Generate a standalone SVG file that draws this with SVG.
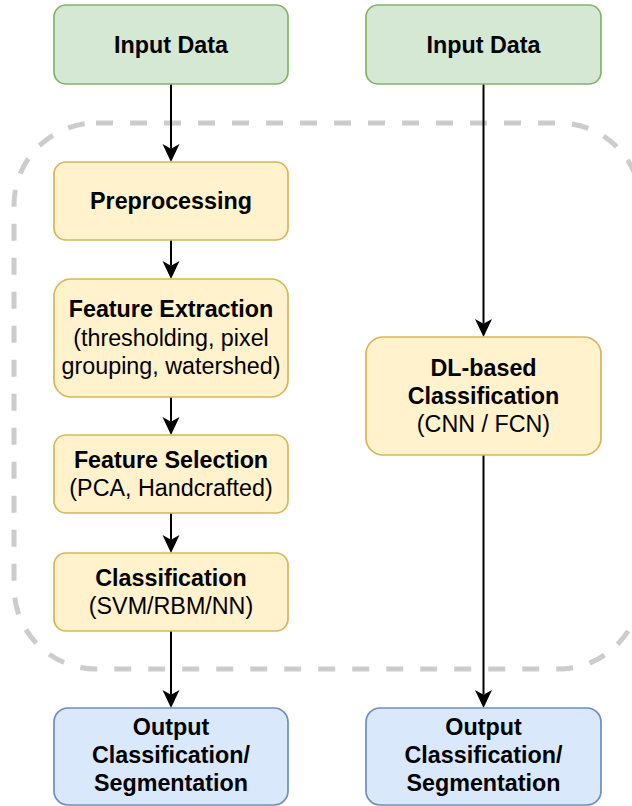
<svg xmlns="http://www.w3.org/2000/svg" width="632" height="806" viewBox="0 0 632 806">
  <style>
    .t { font-family: "Liberation Sans", Arial, sans-serif; font-size: 23.3px; fill: #000; text-anchor: middle; }
    .b { font-weight: bold; }
    .green { fill: #d5e8d4; stroke: #82b366; stroke-width: 1.7; }
    .yellow { fill: #fff2cc; stroke: #d6b656; stroke-width: 1.7; }
    .blue { fill: #dae8fc; stroke: #6c8ebf; stroke-width: 1.7; }
    .edge { fill: none; stroke: #000; stroke-width: 2; }
    .frame { fill: none; stroke: #cccccc; stroke-width: 5; stroke-dasharray: 17 17; }
  </style>
  <defs>
    <marker id="arrow" viewBox="0 0 18 18" refX="4.7" refY="9" markerWidth="18" markerHeight="18" markerUnits="userSpaceOnUse" orient="auto">
      <path d="M0,0.5 L18,9 L0,17.5 L4.7,9 Z" fill="#000"/>
    </marker>
  </defs>

  <!-- dashed grouping frame around the classical pipeline -->
  <rect class="frame" x="14" y="123" width="627" height="546" rx="82" ry="82"/>

  <!-- connectors -->
  <g id="connectors">
    <path class="edge" d="M171,84 L171,148.7" marker-end="url(#arrow)"/>
    <path class="edge" d="M171,240 L171,265.7" marker-end="url(#arrow)"/>
    <path class="edge" d="M171,397 L171,421.7" marker-end="url(#arrow)"/>
    <path class="edge" d="M171,513 L171,539.7" marker-end="url(#arrow)"/>
    <path class="edge" d="M171,631 L171,694.7" marker-end="url(#arrow)"/>
    <path class="edge" d="M483.5,84 L483.5,323.7" marker-end="url(#arrow)"/>
    <path class="edge" d="M483.5,455 L483.5,694.7" marker-end="url(#arrow)"/>
  </g>

  <!-- left column -->
  <g id="input-left">
    <rect class="green" x="54" y="5" width="234" height="79" rx="12"/>
    <text class="t b" x="171" y="52.5">Input Data</text>
  </g>
  <g id="preprocessing">
    <rect class="yellow" x="54" y="162" width="234" height="78" rx="12"/>
    <text class="t b" x="171" y="209">Preprocessing</text>
  </g>
  <g id="feature-extraction">
    <rect class="yellow" x="54" y="279" width="234" height="118" rx="17"/>
    <text class="t b" x="171" y="317">Feature Extraction</text>
    <text class="t" x="171" y="345.5">(thresholding, pixel</text>
    <text class="t" x="171" y="373.5">grouping, watershed)</text>
  </g>
  <g id="feature-selection">
    <rect class="yellow" x="54" y="435" width="234" height="78" rx="12"/>
    <text class="t b" x="171" y="467.5">Feature Selection</text>
    <text class="t" x="171" y="495.5">(PCA, Handcrafted)</text>
  </g>
  <g id="classification">
    <rect class="yellow" x="54" y="553" width="234" height="78" rx="12"/>
    <text class="t b" x="171" y="585.5">Classification</text>
    <text class="t" x="171" y="614">(SVM/RBM/NN)</text>
  </g>
  <g id="output-left">
    <rect class="blue" x="54" y="708" width="234" height="97" rx="14"/>
    <text class="t b" x="171" y="735">Output</text>
    <text class="t b" x="171" y="763">Classification/</text>
    <text class="t b" x="171" y="791">Segmentation</text>
  </g>

  <!-- right column -->
  <g id="input-right">
    <rect class="green" x="366" y="5" width="235" height="79" rx="12"/>
    <text class="t b" x="483.5" y="52.5">Input Data</text>
  </g>
  <g id="dl-classification">
    <rect class="yellow" x="366" y="337" width="235" height="118" rx="17"/>
    <text class="t b" x="483.5" y="375.5">DL-based</text>
    <text class="t b" x="483.5" y="403.5">Classification</text>
    <text class="t" x="483.5" y="431.5">(CNN / FCN)</text>
  </g>
  <g id="output-right">
    <rect class="blue" x="366" y="708" width="235" height="97" rx="14"/>
    <text class="t b" x="483.5" y="735">Output</text>
    <text class="t b" x="483.5" y="763">Classification/</text>
    <text class="t b" x="483.5" y="791">Segmentation</text>
  </g>
</svg>
